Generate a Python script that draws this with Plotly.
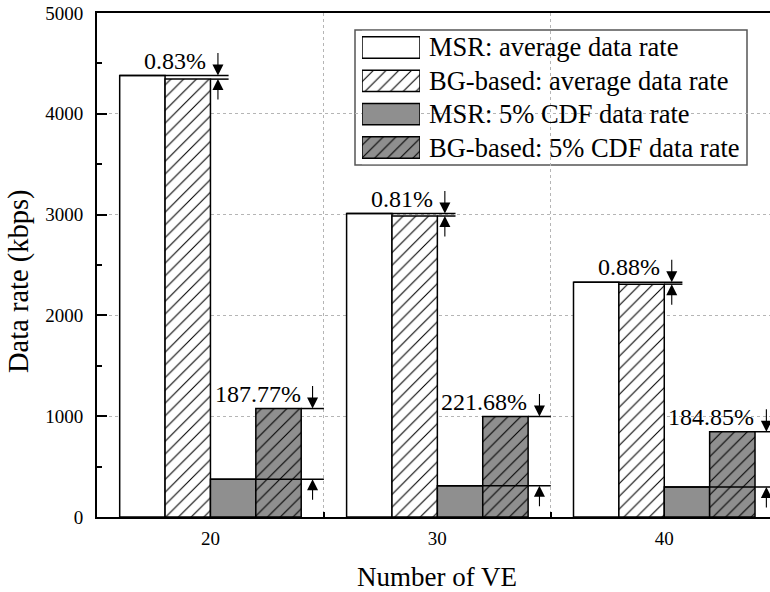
import plotly.graph_objects as go

# ---- data -------------------------------------------------------------
ve_counts = [20, 30, 40]
msr_avg = [4380, 3010, 2330]
bg_avg = [4344, 2986, 2310]
msr_cdf5 = [374, 310, 297]
bg_cdf5 = [1076, 997, 846]
avg_gain_labels = ["0.83%", "0.81%", "0.88%"]
cdf_gain_labels = ["187.77%", "221.68%", "184.85%"]
series_names = [
    "MSR: average data rate",
    "BG-based: average data rate",
    "MSR: 5% CDF data rate",
    "BG-based: 5% CDF data rate",
]
y_ticks = [0, 1000, 2000, 3000, 4000, 5000]

# ---- styling ----------------------------------------------------------
FONT = "Liberation Serif, Times New Roman, serif"
GRAY = "#8f8f8f"
BAR_W = 2
OFFSETS = [-4, -2, 0, 2]
FILLS = ["white", "white", GRAY, GRAY]
HATCH = ["", "/", "", "/"]

W, H = 770, 592
ML, MR, MT, MB = 97, 0, 13, 75
PW, PH = W - ML - MR, H - MT - MB


def px_x(px):
    return (px - ML) / PW


def px_y(py):
    return (H - MB - py) / PH


def bar_marker(i):
    return dict(
        color=FILLS[i],
        line=dict(color="black", width=1.5),
        pattern=dict(shape=HATCH[i], fgcolor="black", bgcolor=FILLS[i],
                     size=9, solidity=0.12, fillmode="replace"),
    )


fig = go.Figure()

series = [msr_avg, bg_avg, msr_cdf5, bg_cdf5]
for i, vals in enumerate(series):
    fig.add_trace(go.Bar(
        x=ve_counts, y=vals, name=series_names[i],
        offset=OFFSETS[i], width=BAR_W,
        marker=bar_marker(i), showlegend=False,
    ))

# legend swatches drawn on a small helper subplot
for i, name in enumerate(series_names):
    fig.add_trace(go.Bar(
        x=[1], y=[i], base=0, orientation="h", width=0.64,
        xaxis="x2", yaxis="y2", marker=bar_marker(i),
        showlegend=False, cliponaxis=False, hoverinfo="skip",
    ))

shapes = []
annotations = []

# legend frame
shapes.append(dict(
    type="rect", xref="paper", yref="paper", layer="between",
    x0=px_x(355), x1=px_x(747), y0=px_y(165), y1=px_y(30),
    fillcolor="white", line=dict(color="#555555", width=1.5),
))
for i, name in enumerate(series_names):
    annotations.append(dict(
        xref="paper", yref="y2", x=px_x(427), y=i, text=name,
        showarrow=False, xanchor="left", yanchor="middle",
        font=dict(family=FONT, size=26.5, color="black"),
    ))


def gap_marker(hi, lo, x_hi_start, x_lo_start, x_end, x_arrow, label):
    line = dict(color="black", width=1.5)
    shapes.append(dict(type="line", xref="x", yref="y", layer="above",
                       x0=x_hi_start, x1=x_end, y0=hi, y1=hi, line=line))
    shapes.append(dict(type="line", xref="x", yref="y", layer="above",
                       x0=x_lo_start, x1=x_end, y0=lo, y1=lo, line=line))
    arrow = dict(xref="x", yref="y", axref="pixel", ayref="pixel", text="",
                 showarrow=True, arrowhead=2, arrowsize=2, arrowwidth=1.1,
                 arrowcolor="black", standoff=0, ax=0)
    annotations.append(dict(arrow, x=x_arrow, y=hi, ay=-24))
    annotations.append(dict(arrow, x=x_arrow, y=lo, ay=22))
    annotations.append(dict(
        xref="x", yref="y", x=x_arrow, y=hi, text=label, showarrow=False,
        xanchor="right", yanchor="middle", xshift=-10, yshift=15,
        font=dict(family=FONT, size=24, color="black"),
    ))


for k, c in enumerate(ve_counts):
    gap_marker(msr_avg[k], bg_avg[k], c - 4, c, c + 0.8, c + 0.33,
               avg_gain_labels[k])
    gap_marker(bg_cdf5[k], msr_cdf5[k], c + 4, c, c + 5, c + 4.5,
               cdf_gain_labels[k])

# axis titles
annotations.append(dict(
    xref="paper", yref="paper", x=px_x(437), y=px_y(577),
    text="Number of VE", showarrow=False, xanchor="center", yanchor="middle",
    font=dict(family=FONT, size=27, color="black"),
))
annotations.append(dict(
    xref="paper", yref="paper", x=px_x(19), y=px_y(281),
    text="Data rate (kbps)", showarrow=False, textangle=-90,
    xanchor="center", yanchor="middle",
    font=dict(family=FONT, size=28.5, color="black"),
))

boundaries = [(a + b) / 2 for a, b in zip(ve_counts, ve_counts[1:])]

fig.update_layout(
    width=W, height=H,
    margin=dict(l=ML, r=MR, t=MT, b=MB, pad=0),
    plot_bgcolor="white", paper_bgcolor="white",
    barmode="overlay", showlegend=False,
    font=dict(family=FONT, color="black"),
    shapes=shapes, annotations=annotations,
    xaxis=dict(
        range=[15, 44.66], tickvals=ve_counts, ticks="",
        showline=True, linecolor="black", linewidth=2, mirror=True,
        showgrid=False, zeroline=False,
        tickfont=dict(family=FONT, size=19, color="black"),
        ticklabelstandoff=3,
        minor=dict(tickvals=boundaries, ticks="inside", ticklen=5,
                   tickwidth=1.5, tickcolor="black", showgrid=True,
                   gridcolor="#b5b5b5", griddash="dot", gridwidth=1),
    ),
    yaxis=dict(
        range=[0, 5000], tickvals=y_ticks, ticks="inside", ticklen=10,
        tickwidth=2, tickcolor="black",
        showline=True, linecolor="black", linewidth=2, mirror=False,
        showgrid=True, gridcolor="#b5b5b5", griddash="dot", gridwidth=1,
        zeroline=False,
        tickfont=dict(family=FONT, size=19, color="black"),
        ticklabelstandoff=8,
        minor=dict(dtick=500, ticks="inside", ticklen=5, tickwidth=2,
                   tickcolor="black", showgrid=False),
    ),
    xaxis2=dict(domain=[px_x(362), px_x(420)], range=[0, 1], visible=False,
                anchor="y2", fixedrange=True),
    yaxis2=dict(domain=[px_y(164.2), px_y(30.8)], range=[3.5, -0.5],
                visible=False, anchor="x2", fixedrange=True),
)

fig.write_html("out.html")
